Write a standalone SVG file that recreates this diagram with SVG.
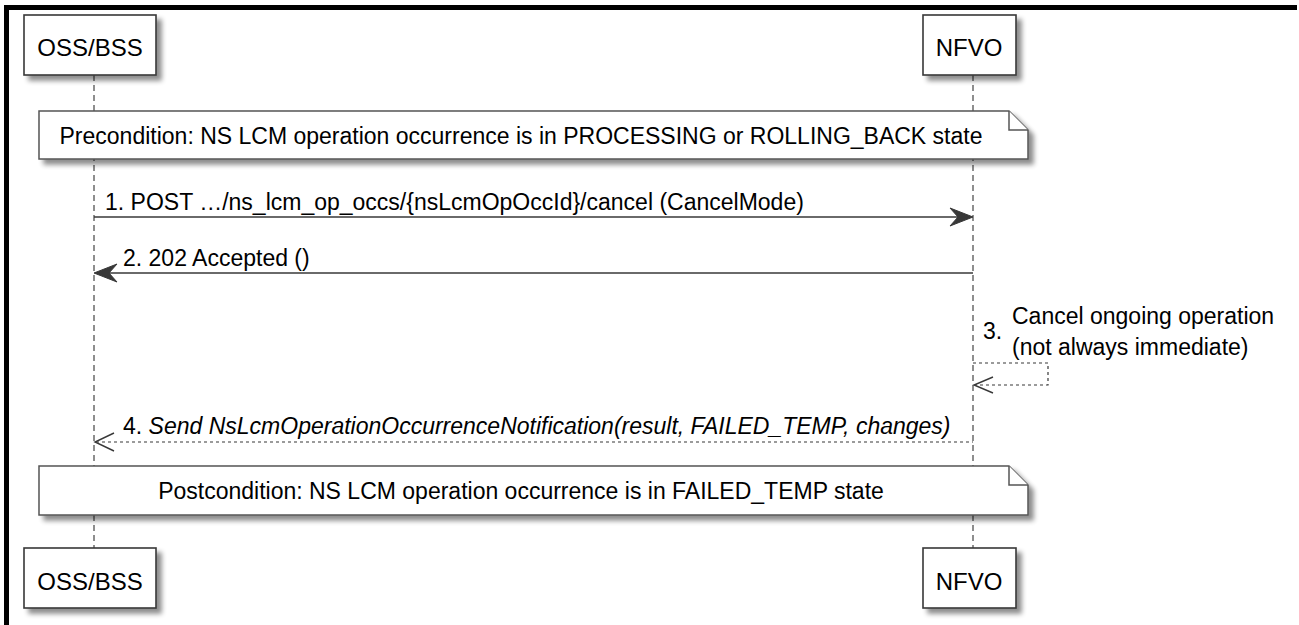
<svg xmlns="http://www.w3.org/2000/svg" width="1299" height="625" viewBox="0 0 1299 625">
<style>
  .box { fill: #ffffff; stroke: #383838; stroke-width: 1.6; }
  .note { fill: #ffffff; stroke: #555555; stroke-width: 1.5; }
  .ptxt { font-family: "Liberation Sans", Arial, sans-serif; font-size: 24px; fill: #000; }
  .txt { font-family: "Liberation Sans", Arial, sans-serif; font-size: 23px; fill: #000; }
  .it { font-style: italic; }
  .life { stroke: #444444; stroke-width: 1.2; stroke-dasharray: 6,4; fill: none; }
  .msg { stroke: #383838; stroke-width: 1.6; fill: none; }
  .dmsg { stroke: #383838; stroke-width: 1.2; stroke-dasharray: 3,3; fill: none; }
  .head { fill: #383838; stroke: #383838; stroke-width: 1; }
  .ohead { fill: none; stroke: #383838; stroke-width: 1.4; }
</style>
<defs>
  <filter id="sh" x="-10%" y="-20%" width="130%" height="160%">
    <feGaussianBlur in="SourceAlpha" stdDeviation="2.5"/>
    <feOffset dx="5" dy="5" result="b"/>
    <feComponentTransfer><feFuncA type="linear" slope="0.45"/></feComponentTransfer>
    <feMerge><feMergeNode/><feMergeNode in="SourceGraphic"/></feMerge>
  </filter>
</defs>
<rect x="0" y="0" width="1299" height="625" fill="#ffffff"/>
<path d="M6.5,700 V7.5 H1297" fill="none" stroke="#000" stroke-width="5"/>

<g id="lifelines">
  <line class="life" x1="94" y1="75" x2="94" y2="548"/>
  <line class="life" x1="973" y1="75" x2="973" y2="548"/>
</g>

<g id="oss_top">
  <rect class="box" x="24" y="15" width="132" height="60" filter="url(#sh)"/>
  <text class="ptxt" x="90" y="56" text-anchor="middle">OSS/BSS</text>
</g>
<g id="nfvo_top">
  <rect class="box" x="923" y="15" width="93" height="60" filter="url(#sh)"/>
  <text class="ptxt" x="969" y="56" text-anchor="middle">NFVO</text>
</g>

<g id="precondition">
  <path class="note" d="M39,111 H1009 L1028,130 V159 H39 Z" filter="url(#sh)"/>
  <path class="note" d="M1009,111 V130 H1028"/>
  <text class="txt" x="521" y="144" text-anchor="middle">Precondition: NS LCM operation occurrence is in PROCESSING or ROLLING_BACK state</text>
</g>

<g id="connectors">
  <g id="m1">
    <line class="msg" x1="94" y1="217" x2="970" y2="217"/>
    <polygon class="head" points="973,217 950,208 958,217 950,226"/>
    <text class="txt" x="105" y="210">1. POST …/ns_lcm_op_occs/{nsLcmOpOccId}/cancel (CancelMode)</text>
  </g>
  <g id="m2">
    <line class="msg" x1="97" y1="273" x2="973" y2="273"/>
    <polygon class="head" points="94,273 117,264 109,273 117,282"/>
    <text class="txt" x="123" y="266">2. 202 Accepted ()</text>
  </g>
  <g id="m3">
    <polyline class="dmsg" points="973,363 1048,363 1048,385 975,385"/>
    <polyline class="ohead" points="993,377 974,385 993,393"/>
    <text class="txt" x="983" y="339">3.</text>
    <text class="txt" x="1012" y="324">Cancel ongoing operation</text>
    <text class="txt" x="1012" y="355">(not always immediate)</text>
  </g>
  <g id="m4">
    <line class="dmsg" x1="96" y1="442" x2="973" y2="442"/>
    <polyline class="ohead" points="114,433 95,442 114,451"/>
    <text class="txt" x="123" y="434">4. <tspan class="it">Send NsLcmOperationOccurrenceNotification(result, FAILED_TEMP, changes)</tspan></text>
  </g>
</g>

<g id="postcondition">
  <path class="note" d="M39,466 H1009 L1028,485 V515 H39 Z" filter="url(#sh)"/>
  <path class="note" d="M1009,466 V485 H1028"/>
  <text class="txt" x="521" y="499" text-anchor="middle">Postcondition: NS LCM operation occurrence is in FAILED_TEMP state</text>
</g>

<g id="oss_bottom">
  <rect class="box" x="24" y="548" width="132" height="60" filter="url(#sh)"/>
  <text class="ptxt" x="90" y="590" text-anchor="middle">OSS/BSS</text>
</g>
<g id="nfvo_bottom">
  <rect class="box" x="923" y="548" width="93" height="60" filter="url(#sh)"/>
  <text class="ptxt" x="969" y="590" text-anchor="middle">NFVO</text>
</g>
</svg>
